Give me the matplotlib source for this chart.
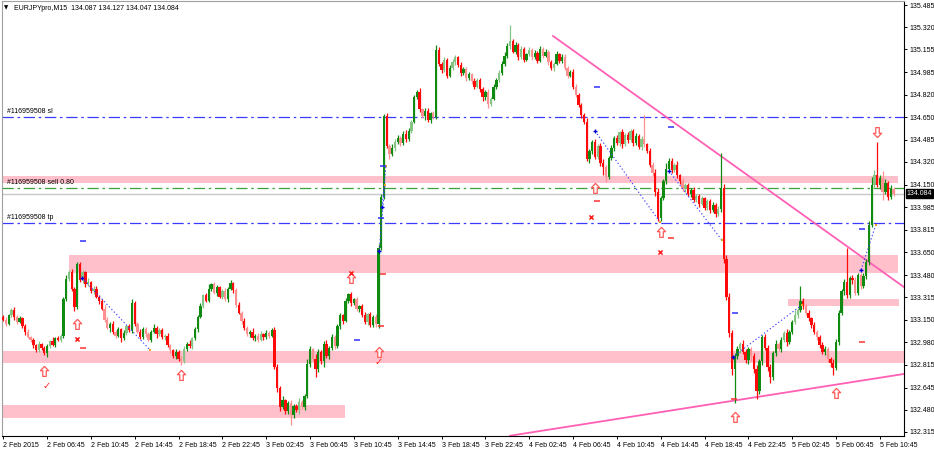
import numpy as np
import matplotlib.pyplot as plt
import matplotlib.transforms as mtransforms
from matplotlib.path import Path

plt.rcParams['font.family'] = ['Liberation Sans', 'DejaVu Sans']

# EURJPY M15 closes, one per bar (2 Feb 2015 02:45 .. 5 Feb 2015 12:00)
closes = [
    133.15, 133.12, 133.18, 133.22, 133.17, 133.13, 133.16, 133.10, 133.06, 133.02,
    133.00, 132.96, 132.92, 132.97, 132.94, 132.90, 132.95, 132.99, 132.96, 133.01,
    133.00, 133.03, 133.30, 133.45, 133.50, 133.38, 133.24, 133.56, 133.44, 133.50,
    133.41, 133.43, 133.36, 133.38, 133.32, 133.29, 133.23, 133.15, 133.09, 133.12,
    133.06, 133.03, 133.08, 133.01, 133.05, 133.10, 133.07, 133.27, 133.12, 133.06,
    133.02, 133.08, 133.04, 133.00, 133.06, 133.09, 133.04, 133.07, 133.02, 133.03,
    132.96, 132.92, 132.88, 132.91, 132.86, 132.84, 132.93, 132.97, 132.95, 133.01,
    133.08, 133.17, 133.25, 133.33, 133.29, 133.38, 133.41, 133.35, 133.39, 133.32,
    133.36, 133.30, 133.38, 133.42, 133.37, 133.26, 133.20, 133.14, 133.09, 133.04,
    133.06, 133.01, 133.03, 133.00, 133.04, 133.02, 133.05, 133.03, 133.07, 132.80,
    132.64, 132.50, 132.55, 132.47, 132.53, 132.44, 132.51, 132.48, 132.54, 132.50,
    132.58, 132.82, 132.93, 132.86, 132.78, 132.91, 132.84, 132.97, 132.88, 132.94,
    133.02, 132.95, 133.10, 133.18, 133.14, 133.29, 133.34, 133.27, 133.30, 133.23,
    133.25, 133.18, 133.13, 133.19, 133.11, 133.17, 133.12, 133.68, 134.06, 134.66,
    134.44, 134.38, 134.42, 134.47, 134.50, 134.46, 134.53, 134.49, 134.55, 134.62,
    134.80, 134.84, 134.71, 134.66, 134.70, 134.63, 134.68, 134.65, 135.15, 135.05,
    135.00, 135.08, 134.96, 135.02, 135.06, 135.10, 135.04, 134.98, 135.01, 134.94,
    134.97, 134.92, 134.88, 134.93, 134.86, 134.80, 134.84, 134.75, 134.79, 134.88,
    134.93, 134.98, 135.05, 135.11, 135.18, 135.22, 135.14, 135.19, 135.10, 135.16,
    135.08, 135.12, 135.15, 135.10, 135.13, 135.07, 135.16, 135.11, 135.14, 135.06,
    135.02, 135.05, 135.12, 135.07, 135.10, 135.02, 134.96, 134.99, 134.88, 134.82,
    134.74, 134.67, 134.62, 134.34, 134.40, 134.47, 134.36, 134.44, 134.31, 134.28,
    134.21, 134.35, 134.42, 134.50, 134.46, 134.54, 134.45, 134.52, 134.48, 134.55,
    134.46, 134.51, 134.43, 134.49, 134.45, 134.40, 134.30, 134.24, 134.10, 133.90,
    134.05, 134.18, 134.27, 134.33, 134.26, 134.30, 134.22, 134.18, 134.12, 134.15,
    134.08, 134.11, 134.04, 134.07, 134.01, 134.05, 133.98, 134.03, 133.96, 134.00,
    133.93, 133.97, 134.13, 133.60, 133.32, 133.05, 132.78, 132.88, 132.93, 132.97,
    132.91, 132.85, 132.93, 132.88, 132.78, 132.62, 132.84, 133.02, 132.94, 132.80,
    132.72, 132.90, 132.97, 132.93, 133.00, 133.05, 132.98, 133.06, 133.13, 133.18,
    133.22, 133.29, 133.25, 133.20, 133.16, 133.11, 133.06, 133.02, 132.96, 132.91,
    132.93, 132.86, 132.83, 132.79, 132.98, 133.20, 133.36, 133.43, 133.33, 133.46,
    133.44, 133.35, 133.48, 133.40, 133.47, 133.58, 133.85, 134.15, 134.22, 134.15,
    134.20, 134.10, 134.16, 134.06, 134.12, 134.084,
]
first_open = 133.17

# wick length above / below the body, in points (0.001)
up_wick = [
    12, 20, 8, 15, 25, 10, 18, 7, 14, 22,
    9, 16, 11, 24, 8, 13, 19, 10, 27, 12,
    15, 9, 20, 30, 18, 22, 14, 20, 15, 17,
    12, 25, 9, 16, 20, 11, 14, 30, 18, 8,
    22, 13, 17, 10, 25, 12, 19, 35, 14, 9,
    21, 16, 11, 18, 13, 24, 10, 15, 20, 12,
    17, 9, 14, 22, 11, 16, 20, 13, 26, 10,
    18, 15, 24, 12, 19, 30, 14, 21, 17, 11,
    16, 25, 12, 20, 9, 14, 22, 11, 18, 15,
    10, 27, 13, 17, 21, 12, 19, 14, 16, 25,
    20, 14, 30, 12, 18, 22, 10, 16, 25, 13,
    15, 40, 20, 12, 35, 18, 14, 22, 30, 16,
    25, 12, 18, 20, 14, 22, 10, 17, 13, 19,
    11, 15, 24, 12, 18, 14, 20, 30, 25, 15,
    20, 14, 35, 18, 22, 12, 16, 25, 19, 13,
    20, 15, 28, 12, 18, 22, 14, 17, 40, 20,
    15, 22, 12, 18, 25, 14, 10, 20, 16, 13,
    19, 11, 24, 15, 12, 18, 14, 21, 10, 16,
    13, 20, 17, 25, 22, 120, 15, 18, 12, 24,
    16, 10, 20, 14, 19, 12, 22, 15, 18, 11,
    16, 13, 25, 12, 18, 20, 14, 11, 22, 16,
    13, 19, 12, 25, 18, 15, 22, 13, 20, 30,
    18, 14, 24, 16, 20, 12, 28, 15, 20, 18,
    13, 22, 16, 19, 180, 14, 20, 17, 25, 30,
    20, 15, 40, 22, 18, 14, 25, 12, 20, 16,
    13, 18, 22, 11, 15, 19, 12, 17, 14, 20,
    15, 20, 260, 25, 30, 25, 20, 18, 22, 15,
    28, 20, 14, 18, 25, 30, 20, 15, 22, 18,
    20, 16, 25, 14, 22, 18, 30, 15, 20, 40,
    18, 110, 22, 16, 20, 12, 25, 15, 18, 20,
    22, 16, 14, 30, 25, 20, 20, 18, 250, 15,
    20, 25, 14, 18, 22, 20, 30, 60, 40, 250,
    25, 50, 30, 20, 30, 15,
]
dn_wick = [
    10, 18, 12, 9, 20, 14, 8, 16, 22, 11,
    15, 25, 13, 9, 18, 12, 30, 14, 10, 17,
    12, 20, 15, 10, 14, 18, 25, 12, 9, 16,
    20, 13, 11, 18, 14, 22, 10, 16, 12, 30,
    14, 19, 11, 25, 13, 17, 10, 22, 15, 12,
    18, 14, 20, 11, 16, 13, 24, 10, 15, 19,
    12, 18, 14, 25, 16, 30, 12, 15, 10, 18,
    14, 20, 11, 16, 13, 10, 18, 14, 22, 12,
    15, 10, 18, 12, 20, 14, 11, 25, 16, 13,
    18, 10, 22, 15, 12, 19, 14, 16, 11, 20,
    25, 30, 15, 20, 18, 70, 22, 15, 30, 18,
    20, 14, 25, 16, 60, 18, 22, 40, 14, 20,
    16, 22, 14, 18, 25, 12, 16, 20, 14, 18,
    22, 11, 15, 19, 12, 16, 25, 30, 15, 12,
    20, 35, 16, 22, 14, 18, 12, 20, 15, 17,
    12, 14, 22, 16, 25, 12, 18, 14, 10, 16,
    22, 14, 18, 12, 16, 20, 13, 25, 15, 18,
    12, 22, 16, 14, 20, 25, 18, 30, 15, 12,
    16, 14, 12, 18, 15, 20, 12, 16, 22, 14,
    18, 12, 15, 20, 13, 17, 11, 16, 14, 20,
    15, 22, 12, 18, 14, 16, 20, 13, 18, 15,
    12, 22, 16, 14, 25, 18, 20, 15, 22, 60,
    40, 18, 14, 20, 16, 22, 30, 14, 18, 12,
    20, 16, 14, 22, 18, 15, 20, 25, 30, 15,
    18, 14, 22, 16, 20, 15, 18, 25, 14, 20,
    16, 22, 14, 18, 25, 12, 20, 16, 22, 14,
    18, 15, 20, 30, 25, 30, 40, 250, 20, 25,
    18, 22, 30, 35, 30, 60, 20, 25, 18, 30,
    40, 22, 18, 14, 20, 16, 25, 12, 18, 14,
    20, 16, 22, 14, 18, 20, 15, 22, 25, 18,
    20, 25, 30, 50, 18, 22, 15, 30, 20, 18,
    25, 20, 15, 22, 18, 20, 25, 15, 20, 18,
    30, 60, 20, 25, 18, 15,
]

time_labels = ['2 Feb 2015', '2 Feb 06:45', '2 Feb 10:45', '2 Feb 14:45', '2 Feb 18:45',
               '2 Feb 22:45', '3 Feb 02:45', '3 Feb 06:45', '3 Feb 10:45', '3 Feb 14:45',
               '3 Feb 18:45', '3 Feb 22:45', '4 Feb 02:45', '4 Feb 06:45', '4 Feb 10:45',
               '4 Feb 14:45', '4 Feb 18:45', '4 Feb 22:45', '5 Feb 02:45', '5 Feb 06:45',
               '5 Feb 10:45']
time_ticks = [0, 16, 32, 48, 64, 80, 96, 112, 128, 144, 160, 176, 192, 208, 224,
              240, 256, 272, 288, 304, 320]
price_ticks = [135.485, 135.320, 135.155, 134.985, 134.820, 134.650, 134.485, 134.320,
               134.150, 133.985, 133.815, 133.650, 133.480, 133.315, 133.150, 132.980,
               132.815, 132.645, 132.480, 132.315]

header = 'EURJPYpro,M15  134.087 134.127 134.047 134.084'
order_sl = 134.654
order_tp = 133.867
order_entry = 134.128
bid = 134.084

# pink zones: low, high, first bar, last bar
zone_lo = [134.163, 133.495, 132.827, 132.419, 133.250]
zone_hi = [134.215, 133.629, 132.916, 132.515, 133.302]
zone_x0 = [-1, 24, -1, -1, 286.4]
zone_x1 = [326.6, 326.6, 331, 124.7, 326.8]

# trend lines (bar, price) pairs
trend_down_x = [200.7, 329.2]
trend_down_y = [135.255, 133.385]
trend_up_x = [185.0, 329.2]
trend_up_y = [132.287, 132.747]

# signal markers
arrow_up_x = [15, 27, 65, 127, 137, 216, 240, 267, 304]
arrow_up_y = [132.768, 133.117, 132.738, 133.458, 132.909, 134.126, 133.800, 132.426, 132.605]
arrow_dn_x = [319]
arrow_dn_y = [134.542]
cross_x = [27, 127, 214.5, 239.7]
cross_y = [133.005, 133.495, 133.911, 133.651]
check_x = [16, 137]
check_y = [132.656, 132.835]
dash_blue_x = [29.1, 129, 138.6, 137.9, 216.7, 243.7, 267, 313.4]
dash_blue_y = [133.733, 132.998, 134.290, 133.904, 134.876, 134.579, 133.198, 133.822]
dash_red_x = [29.1, 137.9, 138.6, 216.7, 243.7, 266.7, 313.4]
dash_red_y = [132.939, 133.102, 133.488, 134.030, 133.755, 132.560, 132.983]

# trade connections: open bar/price -> close bar/price
trade_x0 = [28.8, 137.2, 138.3, 216.0, 243.0, 266.3, 313.1]
trade_y0 = [133.458, 133.659, 133.985, 134.550, 134.253, 132.872, 133.518]
trade_x1 = [53.6, 139.3, 139.7, 239.7, 262.3, 291.5, 318.5]
trade_y1 = [132.924, 134.149, 134.290, 133.874, 133.740, 133.258, 133.852]

c = np.array(closes)
o = np.r_[first_open, c[:-1]]
hi = np.maximum(o, c) + np.array(up_wick) / 1000
lo = np.minimum(o, c) - np.array(dn_wick) / 1000
idx = np.arange(len(c))
bull = c >= o
body = np.maximum(np.abs(c - o), 0.004)
# lighter shade on part of the small bars, as in the terminal overlay
pale = ((idx % 4 == 1) | (idx % 7 == 3)) & (body < 0.12)
col = np.where(bull, np.where(pale, '#84c484', '#108a10'),
               np.where(pale, '#ff9090', '#ff0a0a'))

W, H = 934, 450
fig = plt.figure(figsize=(W / 100, H / 100), dpi=100)
ax = fig.add_axes([2 / W, (H - 436) / H, 902 / W, 435 / H])
ax.set_xlim(-0.44, 328.8)
ax.set_ylim(132.285, 135.515)

# zones
for z0, z1, a, b in zip(zone_lo, zone_hi, zone_x0, zone_x1):
    ax.fill_between([a, b], z0, z1, color='#ffc0cb', lw=0, zorder=1)

# order levels
blend = mtransforms.blended_transform_factory(ax.transAxes, ax.transData)
ax.axhline(order_sl, color='#3b3bff', lw=0.9, dashes=(9, 3, 2, 3), zorder=2)
ax.axhline(order_tp, color='#3b3bff', lw=0.9, dashes=(9, 3, 2, 3), zorder=2)
ax.axhline(order_entry, color='#3aa03a', lw=0.9, dashes=(9, 3, 2, 3), zorder=2)
ax.axhline(bid, color='#c8c8c8', lw=1.0, zorder=2)
for lvl, name in [(order_sl, '#116959508 sl'), (order_entry, '#116959508 sell 0.80'),
                  (order_tp, '#116959508 tp')]:
    ax.text(0.006, lvl + 0.012, name, transform=blend, fontsize=5, va='bottom', ha='left',
            color='black', zorder=5)

# trend lines
ax.plot(trend_down_x, trend_down_y, color='#ff5fb4', lw=1.3, zorder=2)
ax.plot(trend_up_x, trend_up_y, color='#ff5fb4', lw=1.3, zorder=2)

# candles
ax.vlines(idx, lo, hi, colors=col, lw=0.9, zorder=3)
ax.bar(idx, body, bottom=np.minimum(o, c), width=0.85, color=col, lw=0, zorder=3)

# trade connections
for x0, y0, x1, y1 in zip(trade_x0, trade_y0, trade_x1, trade_y1):
    ax.plot([x0, x1], [y0, y1], color='#4040ff', lw=0.8, ls=(0, (1.2, 2)), zorder=4)
ax.scatter(trade_x0, trade_y0, marker='+', s=10, color='#0000dd', lw=1.0, zorder=5)
ax.scatter(trade_x1, trade_y1, marker='s', s=4, color='#f0a020', lw=0, zorder=5)

# signals
up_arrow = Path([(0, 1), (-0.8, 0.15), (-0.34, 0.15), (-0.34, -0.95), (0.34, -0.95),
                 (0.34, 0.15), (0.8, 0.15), (0, 1)])
dn_arrow = Path([(x, -y) for x, y in up_arrow.vertices])
ax.scatter(arrow_up_x, arrow_up_y, marker=up_arrow, s=55, facecolor='white',
           edgecolor='#ff5a5a', lw=0.9, zorder=5)
ax.scatter(arrow_dn_x, arrow_dn_y, marker=dn_arrow, s=55, facecolor='white',
           edgecolor='#ff5a5a', lw=0.9, zorder=5)
ax.scatter(cross_x, cross_y, marker='x', s=9, color='#ff2020', lw=1.1, zorder=5)
for x, y in zip(check_x, check_y):
    ax.text(x, y, '\u2713', color='#ff2020', fontsize=7, ha='center', va='center',
            family=['DejaVu Sans'], zorder=5)
ax.scatter(dash_blue_x, dash_blue_y, marker='_', s=22, color='#3030ff', lw=1.1, zorder=5)
ax.scatter(dash_red_x, dash_red_y, marker='_', s=22, color='#ff3030', lw=1.1, zorder=5)

# axes styling
for s in ['left', 'top']:
    ax.spines[s].set_color('#a0a0a0')
for s in ['right', 'bottom']:
    ax.spines[s].set_color('black')
    ax.spines[s].set_linewidth(0.8)
ax.yaxis.tick_right()
ax.set_yticks(price_ticks)
ax.set_yticklabels([f'{p:.3f}' for p in price_ticks])
ax.set_xticks(time_ticks)
ax.set_xticklabels(time_labels)
for lab in ax.get_xticklabels():
    lab.set_ha('left')
ax.tick_params(axis='both', labelsize=5, length=2.5, width=0.7, pad=1.5, colors='black')

# current price tag
ax.text(1.003, bid, f'{bid:.3f}', transform=blend, fontsize=5, color='white',
        va='center', ha='left',
        bbox=dict(boxstyle='square,pad=0.15', fc='black', ec='black'), zorder=6)

# header
fig.text(4 / W, 1 - 8 / H, '\u25bc', fontsize=4, va='center', ha='left',
         family=['DejaVu Sans'])
fig.text(14 / W, 1 - 8 / H, header, fontsize=5, va='center', ha='left')

fig.savefig('out.png', dpi=100)
